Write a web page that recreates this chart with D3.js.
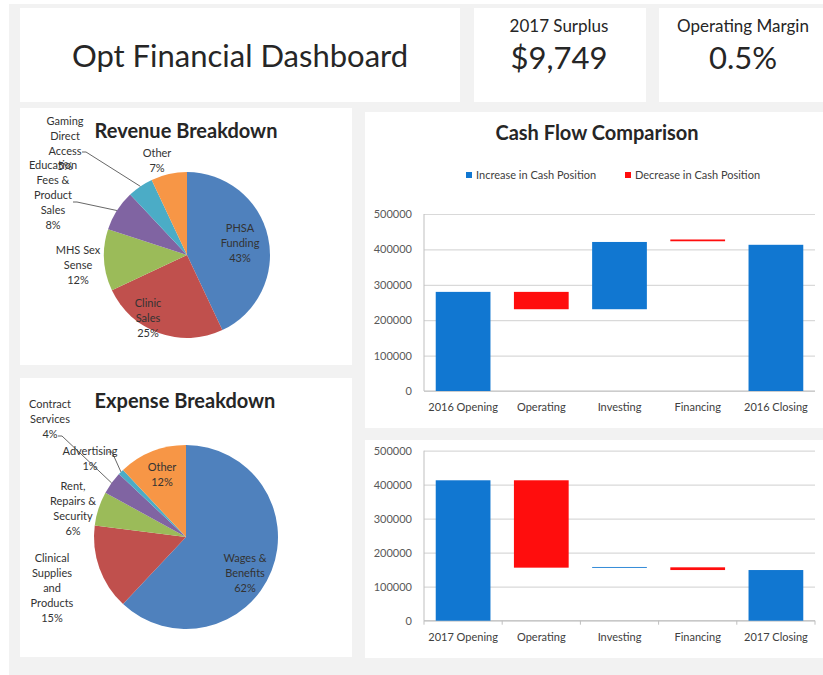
<!DOCTYPE html>
<html>
<head>
<meta charset="utf-8">
<script src="https://unpkg.com/d3@7/dist/d3.min.js"></script>
<style>
  body { margin: 0; background: #fff; }
  svg { display: block; font-family: Lato, "Open Sans", sans-serif; }
</style>
</head>
<body>
<div id="dash"></div>
<script>
// ---- data ----
var revLabels = ["PHSA\nFunding\n43%", "Clinic\nSales\n25%", "MHS Sex\nSense\n12%",
  "Education\nFees &\nProduct\nSales\n8%", "Gaming\nDirect\nAccess\n5%", "Other\n7%"];
var revValues = [43, 25, 12, 8, 5, 7];

var expLabels = ["Wages &\nBenefits\n62%", "Clinical\nSupplies\nand\nProducts\n15%",
  "Rent,\nRepairs &\nSecurity\n6%", "Contract\nServices\n4%", "Advertising\n1%", "Other\n12%"];
var expValues = [62, 15, 6, 4, 1, 12];

var cats2016 = ["2016 Opening", "Operating", "Investing", "Financing", "2016 Closing"];
var low2016 = [0, 231000, 231000, 423000, 0];
var high2016 = [280000, 280000, 421000, 428000, 413000];
var dir2016 = ["up", "down", "up", "down", "up"];

var cats2017 = ["2017 Opening", "Operating", "Investing", "Financing", "2017 Closing"];
var low2017 = [0, 156000, 155500, 149000, 0];
var high2017 = [413000, 413000, 158000, 157000, 149000];
var dir2017 = ["up", "down", "up", "down", "up"];

var yTicks = [0, 100000, 200000, 300000, 400000, 500000];
var legendItems = ["Increase in Cash Position", "Decrease in Cash Position"];

var pieColors = ["#4f81bd", "#c0504d", "#9bbb59", "#8064a2", "#4bacc6", "#f79646"];
var upColor = "#1177d1", downColor = "#ff0d0d";

var width = 823, height = 675;

var svg = d3.select("#dash").append("svg")
  .attr("width", width)
  .attr("height", height);

// gray page + white cards
svg.append("rect").attr("x", 9).attr("y", 4).attr("width", width - 9).attr("height", height - 4)
  .attr("fill", "#f2f2f2");

var cards = [
  [20, 8, 440, 94], [474, 8, 172, 94], [659, 8, 170, 94],
  [20, 108, 332, 257], [20, 378, 332, 279],
  [365, 112, 460, 316], [365, 440, 460, 218]
];
svg.selectAll(".card").data(cards).join("rect")
  .attr("class", "card")
  .attr("x", d => d[0]).attr("y", d => d[1])
  .attr("width", d => d[2]).attr("height", d => d[3])
  .attr("fill", "#fff");

// header
svg.append("text").attr("x", 240).attr("y", 67).attr("text-anchor", "middle")
  .attr("font-size", 31).attr("fill", "#262626").text("Opt Financial Dashboard");
svg.append("text").attr("x", 559).attr("y", 32).attr("text-anchor", "middle")
  .attr("font-size", 17).attr("fill", "#262626").text("2017 Surplus");
svg.append("text").attr("x", 559).attr("y", 69).attr("text-anchor", "middle")
  .attr("font-size", 31).attr("fill", "#262626").text("$9,749");
svg.append("text").attr("x", 743).attr("y", 32).attr("text-anchor", "middle")
  .attr("font-size", 17).attr("fill", "#262626").text("Operating Margin");
svg.append("text").attr("x", 743).attr("y", 69).attr("text-anchor", "middle")
  .attr("font-size", 31).attr("fill", "#262626").text("0.5%");

// ---- pies ----
function drawPie(opts) {
  var g = svg.append("g").attr("transform", "translate(" + opts.cx + "," + opts.cy + ")");
  var pie = d3.pie().sort(null).value(d => d)(opts.values);
  var arc = d3.arc().innerRadius(0).outerRadius(opts.r);

  g.selectAll("path.slice").data(pie).join("path")
    .attr("class", "slice")
    .attr("d", arc)
    .attr("fill", (d, i) => pieColors[i]);

  // leader lines
  opts.leaders.forEach(function (l) {
    var p = pie[l.i];
    var a = (p.startAngle + p.endAngle) / 2;
    var edge = [opts.r * Math.sin(a), -opts.r * Math.cos(a)];
    g.append("path")
      .attr("d", d3.line()([l.from, [l.from[0] + 4, l.from[1]], edge]))
      .attr("fill", "none").attr("stroke", "#404040").attr("stroke-width", 0.8);
  });

  g.selectAll("text.lbl").data(opts.labels).join("text")
    .attr("class", "lbl")
    .attr("text-anchor", "middle")
    .attr("font-size", 11)
    .attr("fill", "#333")
    .each(function (d, i) {
      var lines = d.split("\n");
      var off = opts.offsets[i];
      var y0 = off[1] - (lines.length - 1) * 15 / 2 + 4;
      d3.select(this).selectAll("tspan").data(lines).join("tspan")
        .attr("x", off[0]).attr("y", (t, k) => y0 + k * 15).text(t => t);
    });

  svg.append("text").attr("x", opts.cx - 1).attr("y", opts.titleY)
    .attr("text-anchor", "middle").attr("font-size", 20).attr("font-weight", "bold")
    .attr("fill", "#262626").text(opts.title);
}

drawPie({
  cx: 187, cy: 255, r: 83, title: "Revenue Breakdown", titleY: 138,
  values: revValues, labels: revLabels,
  offsets: [[53, -12], [-39, 63], [-109, 10], [-134, -60], [-122, -112], [-30, -95]],
  leaders: [{ i: 4, from: [-105, -103] }, { i: 3, from: [-114, -53] }]
});

drawPie({
  cx: 186, cy: 537, r: 92, title: "Expense Breakdown", titleY: 408,
  values: expValues, labels: expLabels,
  offsets: [[59, 36], [-134, 51], [-113, -29], [-136, -118], [-96, -79], [-24, -63]],
  leaders: [{ i: 3, from: [-128, -101] }, { i: 4, from: [-78, -85] }]
});

// ---- waterfall charts ----
function drawWaterfall(opts) {
  var x = d3.scaleBand().domain(opts.cats).range([424, 815])
    .paddingInner(0.3).paddingOuter(0.15);
  var y = d3.scaleLinear().domain([0, 500000]).range([opts.y0, opts.y1]);
  var g = svg.append("g");

  g.append("g")
    .attr("transform", "translate(424,0)")
    .call(d3.axisLeft(y).tickValues(yTicks).tickSize(-(815 - 424)).tickPadding(12).tickFormat(d3.format("d")))
    .call(ax => ax.select(".domain").remove())
    .call(ax => ax.selectAll(".tick line").attr("stroke", "#d9d9d9").attr("stroke-width", 1.2))
    .call(ax => ax.selectAll(".tick text").attr("fill", "#595959").attr("font-size", 11)
      .attr("font-family", "Lato, sans-serif"));

  // left axis line
  g.append("line").attr("x1", 424).attr("x2", 424).attr("y1", opts.y1).attr("y2", opts.y0)
    .attr("stroke", "#bfbfbf");
  g.append("line").attr("x1", 424).attr("x2", 815).attr("y1", opts.y0).attr("y2", opts.y0)
    .attr("stroke", "#bfbfbf");

  if (opts.catTicks) {
    var step = x.step();
    g.selectAll("line.ct").data(d3.range(opts.cats.length + 1)).join("line")
      .attr("class", "ct")
      .attr("x1", i => 424 + i * step).attr("x2", i => 424 + i * step)
      .attr("y1", opts.y0).attr("y2", opts.y0 + 4)
      .attr("stroke", "#bfbfbf");
  }

  g.selectAll("rect.bar").data(opts.cats).join("rect")
    .attr("class", "bar")
    .attr("x", d => x(d))
    .attr("width", x.bandwidth())
    .attr("y", (d, i) => y(opts.high[i]))
    .attr("height", (d, i) => y(opts.low[i]) - y(opts.high[i]))
    .attr("fill", (d, i) => opts.dir[i] === "up" ? upColor : downColor);

  g.selectAll("text.cat").data(opts.cats).join("text")
    .attr("class", "cat")
    .attr("x", d => x(d) + x.bandwidth() / 2)
    .attr("y", opts.y0 + 20)
    .attr("text-anchor", "middle")
    .attr("font-size", 11)
    .attr("fill", "#404040")
    .text(d => d);
}

drawWaterfall({ cats: cats2016, low: low2016, high: high2016, dir: dir2016, y0: 391, y1: 214, catTicks: false });
drawWaterfall({ cats: cats2017, low: low2017, high: high2017, dir: dir2017, y0: 620.7, y1: 450.7, catTicks: true });

// title + legend
svg.append("text").attr("x", 597).attr("y", 140).attr("text-anchor", "middle")
  .attr("font-size", 20).attr("font-weight", "bold").attr("fill", "#262626")
  .text("Cash Flow Comparison");

var legend = svg.selectAll("g.leg").data(legendItems).join("g")
  .attr("class", "leg")
  .attr("transform", (d, i) => "translate(" + (466 + i * 159) + ",175)");
legend.append("rect").attr("x", 0).attr("y", -3).attr("width", 6).attr("height", 6)
  .attr("fill", (d, i) => i === 0 ? upColor : downColor);
legend.append("text").attr("x", 10).attr("y", 4).attr("font-size", 11)
  .attr("fill", "#404040").text(d => d);
</script>
</body>
</html>
